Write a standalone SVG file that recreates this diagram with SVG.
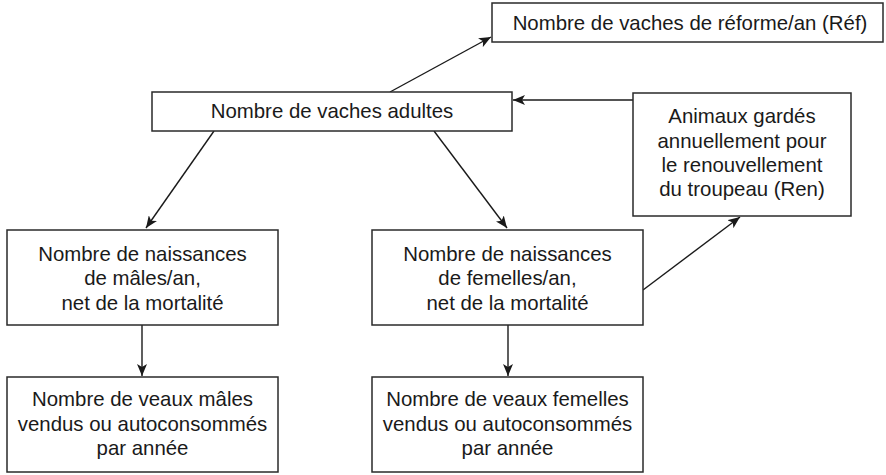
<svg xmlns="http://www.w3.org/2000/svg" width="886" height="475" viewBox="0 0 886 475">
<style>
.box{fill:#fff;stroke:#2a2a2a;stroke-width:1.5}
.t{font-family:"Liberation Sans",Arial,sans-serif;font-size:20.4px;fill:#1a1a1a;text-anchor:middle}
.c{stroke:#1a1a1a;stroke-width:1.4;fill:none;marker-end:url(#ah)}
</style>
<defs>
<marker id="ah" viewBox="0 0 12 10" refX="12" refY="5" markerWidth="12" markerHeight="10" markerUnits="userSpaceOnUse" orient="auto">
<path d="M0,0 L12,5 L0,10 L3,5 z" fill="#1a1a1a"/>
</marker>
</defs>
<rect width="886" height="475" fill="#fff"/>
<g id="connectors">
<line class="c" x1="390" y1="92" x2="491" y2="37"/>
<line class="c" x1="633" y1="100" x2="513" y2="100"/>
<line class="c" x1="214" y1="131" x2="146" y2="228"/>
<line class="c" x1="434" y1="131" x2="507" y2="228"/>
<line class="c" x1="643" y1="290" x2="740" y2="217"/>
<line class="c" x1="142" y1="325" x2="142" y2="376"/>
<line class="c" x1="508" y1="325" x2="508" y2="376"/>
</g>
<g id="ref">
<rect class="box" x="492" y="3" width="391" height="39"/>
<text class="t" x="690" y="30">Nombre de vaches de réforme/an (Réf)</text>
</g>
<g id="adultes">
<rect class="box" x="152" y="92" width="360" height="39"/>
<text class="t" x="332" y="118">Nombre de vaches adultes</text>
</g>
<g id="ren">
<rect class="box" x="633" y="93" width="218" height="123"/>
<text class="t" x="742" y="123">Animaux gardés</text>
<text class="t" x="742" y="148">annuellement pour</text>
<text class="t" x="742" y="172">le renouvellement</text>
<text class="t" x="742" y="196">du troupeau (Ren)</text>
</g>
<g id="naissances-males">
<rect class="box" x="7" y="230" width="271" height="95"/>
<text class="t" x="142.5" y="261">Nombre de naissances</text>
<text class="t" x="142.5" y="285">de mâles/an,</text>
<text class="t" x="142.5" y="310">net de la mortalité</text>
</g>
<g id="naissances-femelles">
<rect class="box" x="372" y="230" width="271" height="95"/>
<text class="t" x="507.5" y="261">Nombre de naissances</text>
<text class="t" x="507.5" y="285">de femelles/an,</text>
<text class="t" x="507.5" y="310">net de la mortalité</text>
</g>
<g id="veaux-males">
<rect class="box" x="7" y="377" width="271" height="95"/>
<text class="t" x="142.5" y="406">Nombre de veaux mâles</text>
<text class="t" x="142.5" y="431">vendus ou autoconsommés</text>
<text class="t" x="142.5" y="455">par année</text>
</g>
<g id="veaux-femelles">
<rect class="box" x="372" y="377" width="271" height="95"/>
<text class="t" x="507.5" y="406">Nombre de veaux femelles</text>
<text class="t" x="507.5" y="431">vendus ou autoconsommés</text>
<text class="t" x="507.5" y="455">par année</text>
</g>
</svg>
